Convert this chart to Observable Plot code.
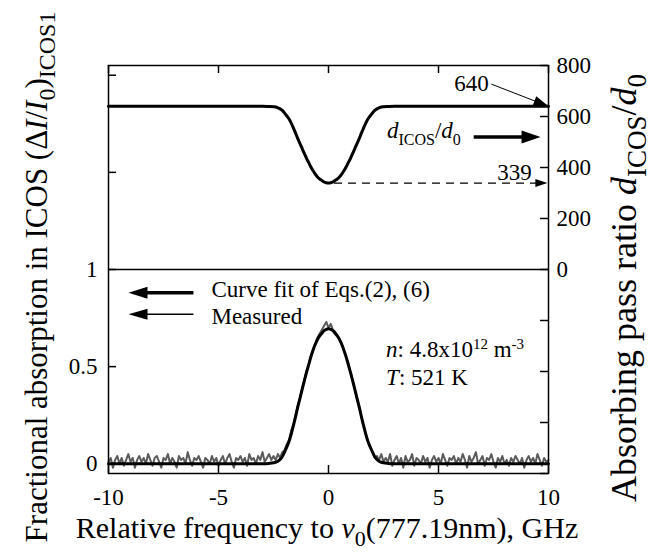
<!DOCTYPE html>
<html><head><meta charset="utf-8">
<script src="https://cdn.jsdelivr.net/npm/d3@7"></script>
<script src="https://cdn.jsdelivr.net/npm/@observablehq/plot@0.6"></script>
<style>body{margin:0;background:#fff}svg{display:block}</style>
</head><body><div id="chart"></div>
<script>
// ---------- axis ticks ----------
const xTicks = [-10, -5, 0, 5, 10];
const leftTicks = [0, 0.5, 1, 1.5, 2];
const leftLabels = [0, 0.5, 1];
const rightTicks = [-800, -600, -400, -200, 0, 200, 400, 600, 800];
const rightLabels = [0, 200, 400, 600, 800];
const leftDomain = [-0.05, 2.05];
const rightMax = 800;            // right axis value at top of frame
const rightZeroLeft = 1;         // right-axis 0 sits at left-axis 1

// ---------- fit curve (left axis) and pass ratio (right axis) ----------
const fitX = [-10, -3, -2.7, -2.5, -2.4, -2.3, -2.2, -2.1, -2.0, -1.9, -1.8, -1.7, -1.6, -1.5, -1.4, -1.3, -1.2, -1.1, -1.0, -0.9, -0.8, -0.7, -0.6, -0.5, -0.4, -0.3, -0.2, -0.1, 0,
  0.1, 0.2, 0.3, 0.4, 0.5, 0.6, 0.7, 0.8, 0.9, 1.0, 1.1, 1.2, 1.3, 1.4, 1.5, 1.6, 1.7, 1.8, 1.9, 2.0, 2.1, 2.2, 2.3, 2.4, 2.5, 2.7, 3, 10];
const fitY = [0, 0, 0.002, 0.005, 0.008, 0.013, 0.022, 0.037, 0.060, 0.085, 0.113, 0.150, 0.195, 0.240, 0.290, 0.335, 0.382, 0.427, 0.470, 0.510, 0.550, 0.585, 0.615, 0.640, 0.658, 0.672, 0.685, 0.692, 0.695,
  0.692, 0.685, 0.672, 0.658, 0.640, 0.615, 0.585, 0.550, 0.510, 0.470, 0.427, 0.382, 0.335, 0.290, 0.240, 0.195, 0.150, 0.113, 0.085, 0.060, 0.037, 0.022, 0.013, 0.008, 0.005, 0.002, 0, 0];
const ratioY = [640, 640, 639, 638, 637, 634, 630, 624, 614, 603, 591, 575, 556, 536, 514, 495, 475, 455, 436, 419, 402, 387, 374, 363, 355, 349, 343, 340, 339,
  340, 343, 349, 355, 363, 374, 387, 402, 419, 436, 455, 475, 495, 514, 536, 556, 575, 591, 603, 614, 624, 630, 634, 637, 638, 639, 640, 640];

// ---------- measured absorption (left axis), sampled every 0.1 GHz from -10 ----------
const measuredStart = -10, measuredStep = 0.1;
const measuredY = [
  0.01, 0.03, -0.02, 0.02, 0.04, 0.00, 0.03, -0.01, 0.02, 0.05,
  0.01, 0.03, -0.02, 0.02, 0.04, 0.01, 0.03, 0.00, 0.05, 0.02,
  -0.01, 0.03, 0.04, 0.01, -0.02, 0.03, 0.02, 0.05, 0.00, 0.03,
  0.01, -0.02, 0.04, 0.02, 0.03, 0.00, 0.06, 0.02, -0.01, 0.03,
  0.02, 0.04, 0.01, -0.02, 0.03, 0.02, 0.00, 0.04, 0.01, 0.03,
  -0.01, 0.02, 0.04, 0.00, 0.03, 0.05, 0.01, -0.02, 0.03, 0.02,
  0.04, 0.01, 0.03, -0.01, 0.05, 0.02, 0.03, 0.00, 0.04, 0.02,
  0.06, 0.01, 0.03, 0.05, 0.02,
  0.04, 0.02, 0.05, 0.03, 0.06, 0.07, 0.10, 0.12, 0.17, 0.20,
  0.25, 0.30, 0.34, 0.39, 0.43, 0.48, 0.51, 0.56, 0.59, 0.62,
  0.65, 0.67, 0.69, 0.71, 0.73, 0.70, 0.72, 0.69, 0.68, 0.66,
  0.64, 0.62, 0.58, 0.55, 0.52, 0.47, 0.43, 0.38, 0.33, 0.29,
  0.24, 0.19, 0.15, 0.11, 0.09, 0.06, 0.03, 0.04, 0.02, 0.05, 0.01,
  0.03, 0.01, 0.05, -0.01, 0.02, 0.04, 0.00, 0.03, -0.02, 0.04,
  0.01, 0.02, 0.05, -0.01, 0.03, 0.02, 0.00, 0.04, 0.01, 0.03,
  -0.02, 0.02, 0.04, 0.01, 0.03, 0.00, 0.05, 0.02, -0.01, 0.03,
  0.02, 0.04, 0.00, 0.03, 0.01, 0.05, 0.02, -0.02, 0.04, 0.01,
  0.03, 0.06, 0.00, 0.02, 0.04, -0.01, 0.03, 0.02, 0.05, 0.01,
  -0.02, 0.03, 0.01, 0.04, 0.00, 0.02, -0.01, 0.03, 0.01, 0.04,
  0.02, 0.00, 0.03, -0.02, 0.02, 0.04, 0.01, 0.03, 0.00, 0.05,
  0.02, -0.01, 0.03, 0.01, 0.02
];

// ---------- annotations (data units) ----------
const ratioMin = 339, ratioFlat = 640;
const label640 = {x: 6.5, r: 729};
const arrow640 = {x1: 7.4, r1: 727, x2: 10, r2: 640};
const labelRatio = {x: 2.68, r: 514};
const arrowRatio = {x1: 6.6, x2: 9.64, r: 520};
const label339 = {x: 8.45, r: 380};
const dash339 = {x1: 0.25, x2: 9.95};
const legendFit = {text: "Curve fit of Eqs.(2), (6)", x: -5.32, y: 0.894, ax1: -6.14, ax2: -9.09, ay: 0.88};
const legendMeas = {text: "Measured", x: -5.32, y: 0.759, ax1: -6.14, ax2: -9.09, ay: 0.77};
const nText = {x: 2.64, y: 0.547};
const tText = {x: 2.64, y: 0.403};

// ---------- build ----------
const FONT = "'Liberation Serif', 'Times New Roman', serif";
const toLeft = r => rightZeroLeft + r * (leftDomain[1] - rightZeroLeft) / rightMax;
const fromLeft = v => Math.round((v - rightZeroLeft) * rightMax / (leftDomain[1] - rightZeroLeft));
const fitData = fitX.map((x, i) => ({x, y: fitY[i]}));
const ratioData = fitX.map((x, i) => ({x, y: toLeft(ratioY[i])}));
const measured = measuredY.map((y, i) => ({x: +(measuredStart + i * measuredStep).toFixed(2), y}));

const W = 653, H = 557, mT = 65, mB = 84, mL = 108, mR = 105;
const fw = W - mL - mR, fh = H - mT - mB, tk = 8;

function head(L, Wd, deg) {
  const a = deg * Math.PI / 180, c = Math.cos(a), s = Math.sin(a);
  const p = (u, v) => [u * c - v * s, u * s + v * c];
  return {draw(ctx) {
    const A = p(0, 0), B = p(-L, -Wd / 2), C = p(-L, Wd / 2);
    ctx.moveTo(A[0], A[1]); ctx.lineTo(B[0], B[1]); ctx.lineTo(C[0], C[1]); ctx.closePath();
  }};
}

const chart = Plot.plot({
  width: W, height: H,
  marginTop: mT, marginBottom: mB, marginLeft: mL, marginRight: mR,
  style: {fontFamily: FONT, fontSize: "23px", color: "black", background: "white"},
  x: {domain: [-10, 10]},
  y: {domain: leftDomain},
  marks: [
    Plot.line(measured, {x: "x", y: "y", stroke: "#5a5a5a", strokeWidth: 2}),
    Plot.line(fitData, {x: "x", y: "y", stroke: "black", strokeWidth: 3, curve: "monotone-x"}),
    Plot.line(ratioData, {x: "x", y: "y", stroke: "black", strokeWidth: 3, curve: "monotone-x"}),
    Plot.frame({stroke: "black", strokeWidth: 1.5}),
    Plot.ruleY([rightZeroLeft], {stroke: "black", strokeWidth: 1.5}),
    Plot.tickX(xTicks, {x: d => d, insetTop: fh - tk, strokeWidth: 1.5}),
    Plot.tickX(xTicks, {x: d => d, insetBottom: fh - tk, strokeWidth: 1.5}),
    Plot.tickY(leftTicks, {y: d => d, insetRight: fw - tk, strokeWidth: 1.5}),
    Plot.tickY(rightTicks, {y: d => toLeft(d), insetLeft: fw - tk, strokeWidth: 1.5}),
    Plot.axisX({ticks: xTicks, tickSize: 0, tickPadding: 15, tickFormat: d => String(d), label: null, fontSize: 23}),
    Plot.axisY({anchor: "left", ticks: leftLabels, tickSize: 0, tickPadding: 11, tickFormat: d => String(d), label: null, fontSize: 23}),
    Plot.axisY({anchor: "right", ticks: rightLabels.map(toLeft), tickSize: 0, tickPadding: 8, tickFormat: d => String(fromLeft(d)), label: null, fontSize: 23}),
    // 640 arrow
    Plot.link([arrow640], {x1: "x1", y1: d => toLeft(d.r1), x2: "x2", y2: d => toLeft(d.r2), stroke: "black", strokeWidth: 1}),
    Plot.dot([arrow640], {x: "x2", y: d => toLeft(d.r2), symbol: head(15, 10, 21), fill: "black", stroke: "none"}),
    Plot.text([label640], {x: "x", y: d => toLeft(d.r), text: () => String(ratioFlat), fontSize: 23}),
    // d_ICOS/d_0 arrow
    Plot.link([arrowRatio], {x1: "x1", y1: d => toLeft(d.r), x2: d => d.x2 - 0.6, y2: d => toLeft(d.r), stroke: "black", strokeWidth: 3.5}),
    Plot.dot([arrowRatio], {x: "x2", y: d => toLeft(d.r), symbol: head(19, 13, 0), fill: "black", stroke: "none"}),
    // 339 dashed arrow
    Plot.link([dash339], {x1: "x1", y1: () => toLeft(ratioMin), x2: d => d.x2 - 0.3, y2: () => toLeft(ratioMin), stroke: "black", strokeWidth: 1.2, strokeDasharray: "8,6"}),
    Plot.dot([dash339], {x: "x2", y: () => toLeft(ratioMin), symbol: head(12, 8, 0), fill: "black", stroke: "none"}),
    Plot.text([label339], {x: "x", y: d => toLeft(d.r), text: () => String(ratioMin), fontSize: 23}),
    // legend arrows
    Plot.link([legendFit], {x1: "ax1", y1: "ay", x2: d => d.ax2 + 0.7, y2: "ay", stroke: "black", strokeWidth: 3.5}),
    Plot.dot([legendFit], {x: "ax2", y: "ay", symbol: head(19, 12, 180), fill: "black", stroke: "none"}),
    Plot.link([legendMeas], {x1: "ax1", y1: "ay", x2: d => d.ax2 + 0.7, y2: "ay", stroke: "black", strokeWidth: 1.5}),
    Plot.dot([legendMeas], {x: "ax2", y: "ay", symbol: head(19, 11, 180), fill: "black", stroke: "none"}),
    Plot.text([legendFit, legendMeas], {x: "x", y: "y", text: "text", textAnchor: "start", fontSize: 23})
  ]
});
document.getElementById("chart").appendChild(chart);

// ---------- rich text (italics, sub/superscripts) ----------
const sx = chart.scale("x"), sy = chart.scale("y");
function rich(px, py, parts, {size = 23, rotate = 0, anchor = "start"} = {}) {
  const t = d3.select(chart).append("text")
    .attr("transform", `translate(${px},${py}) rotate(${rotate})`)
    .attr("text-anchor", anchor).attr("font-family", FONT)
    .attr("font-size", size).attr("fill", "black");
  let shift = 0;
  for (const p of parts) {
    const s = t.append("tspan").text(p.t);
    const target = p.sub ? p.sub : p.sup ? -p.sup : 0;
    if (target - shift !== 0) s.attr("dy", target - shift);
    shift = target;
    if (p.i) s.attr("font-style", "italic");
    if (p.size) s.attr("font-size", p.size);
  }
}
rich(sx.apply(labelRatio.x), sy.apply(toLeft(labelRatio.r)), [
  {t: "d", i: true}, {t: "ICOS", sub: 7, size: 16}, {t: "/"}, {t: "d", i: true}, {t: "0", sub: 7, size: 16}
]);
rich(sx.apply(nText.x), sy.apply(nText.y), [
  {t: "n", i: true}, {t: ": 4.8x10"}, {t: "12", sup: 8, size: 15}, {t: " m"}, {t: "-3", sup: 8, size: 15}
]);
rich(sx.apply(tText.x), sy.apply(tText.y), [
  {t: "T", i: true}, {t: ": 521 K"}
]);
// axis titles
rich(327, 538, [
  {t: "Relative frequency to "}, {t: "ν", i: true}, {t: "0", sub: 8, size: 22}, {t: "(777.19nm), GHz"}
], {size: 30, anchor: "middle"});
rich(47, 277, [
  {t: "Fractional absorption in ICOS (Δ"}, {t: "I", i: true}, {t: "/"}, {t: "I", i: true},
  {t: "0", sub: 8, size: 24}, {t: ")"}, {t: "ICOS1", sub: 8, size: 24}
], {size: 31, rotate: -90, anchor: "middle"});
rich(636, 288, [
  {t: "Absorbing pass ratio "}, {t: "d", i: true}, {t: "ICOS", sub: 10, size: 27}, {t: "/"}, {t: "d", i: true}, {t: "0", sub: 10, size: 27}
], {size: 36, rotate: -90, anchor: "middle"});
</script>
</body></html>
